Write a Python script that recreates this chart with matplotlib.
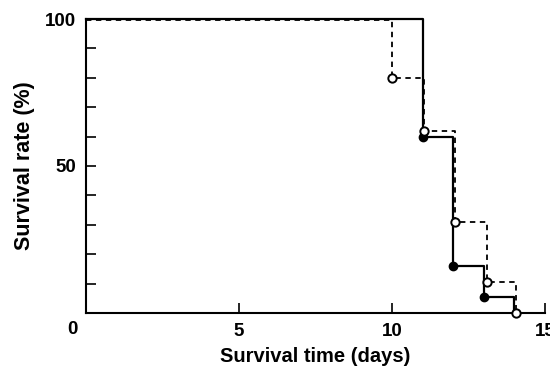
import matplotlib
matplotlib.use("Agg")
import matplotlib.pyplot as plt
from matplotlib.ticker import FixedLocator

# Data
solid_times = [0, 11, 12, 13, 14]
solid_surv = [100, 60, 16, 5.5, 0]
dashed_times = [0, 10, 11.05, 12.05, 13.1, 14.05]
dashed_surv = [99.5, 80, 62, 31, 10.5, 0]
x_ticks = [5, 10, 15]
x_tick_labels = ['5', '10', '15']
y_ticks = [50, 100]
y_tick_labels = ['50', '100']
y_minor = [10, 20, 30, 40, 60, 70, 80, 90]

plt.rcParams['font.family'] = ['Liberation Sans', 'DejaVu Sans']

fig = plt.figure(figsize=(5.5, 3.69), dpi=100)
ax = fig.add_axes([86/550, 1-313/369, (545-86)/550, (313-19)/369])

ax.step(solid_times, solid_surv, where='post', color='black', lw=1.6, clip_on=False, zorder=3)
ax.step(dashed_times, dashed_surv, where='post', color='black', lw=1.3,
        ls=(0, (3, 2.5)), clip_on=False, zorder=2)
ax.plot(solid_times[1:-1], solid_surv[1:-1], 'o', color='black', ms=6, clip_on=False, zorder=4)
ax.plot(dashed_times[1:], dashed_surv[1:], 'o', mfc='white', mec='black', mew=1.4,
        ms=6, clip_on=False, zorder=5)

ax.set_xlim(0, 15)
ax.set_ylim(0, 100)
for s in ['top', 'right']:
    ax.spines[s].set_visible(False)
for s in ['left', 'bottom']:
    ax.spines[s].set_linewidth(1.5)

ax.xaxis.set_major_locator(FixedLocator(x_ticks))
ax.set_xticklabels(x_tick_labels)
ax.yaxis.set_major_locator(FixedLocator(y_ticks))
ax.set_yticklabels(y_tick_labels)
ax.yaxis.set_minor_locator(FixedLocator(y_minor))
ax.tick_params(axis='both', which='both', direction='in', width=1.2, labelsize=13.5)
ax.tick_params(axis='x', which='major', length=7, pad=7)
ax.tick_params(axis='y', which='major', length=7, pad=7)
ax.tick_params(axis='y', which='minor', length=7)
for lbl in ax.get_xticklabels() + ax.get_yticklabels():
    lbl.set_fontweight('bold')

# shared origin label
ax.annotate('0', xy=(0, 0), xycoords='data', xytext=(-14, -16), textcoords='offset pixels',
            ha='center', va='center', fontsize=13.5, fontweight='bold', annotation_clip=False)

ax.set_xlabel('Survival time (days)', fontsize=14.5, fontweight='bold', labelpad=5)
ax.set_ylabel('Survival rate (%)', fontsize=15.5, fontweight='bold', labelpad=7)

fig.savefig('out.png', dpi=100)
